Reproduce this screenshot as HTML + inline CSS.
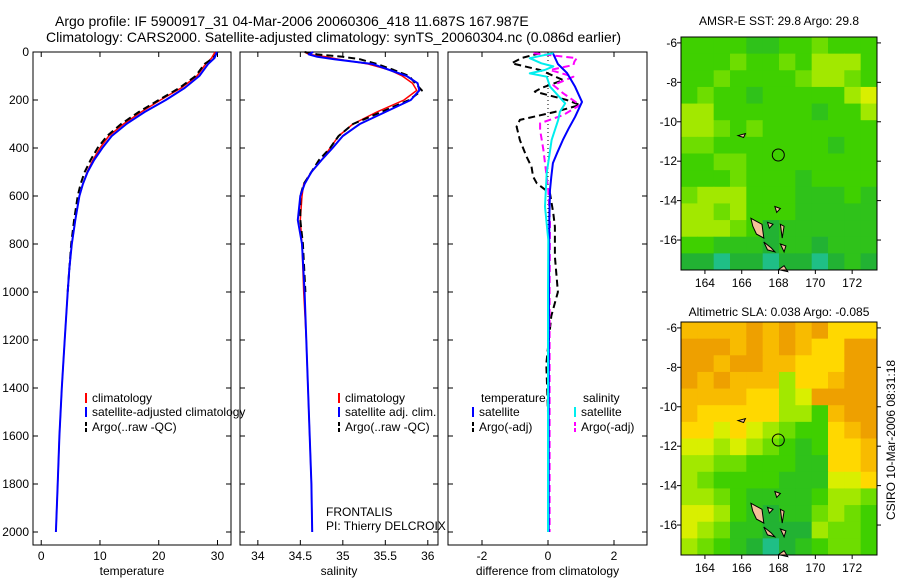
<!DOCTYPE html>
<html><head><meta charset="utf-8"><style>
body{margin:0;background:#fff}
svg{display:block;font-family:"Liberation Sans",sans-serif}
text{fill:#000}
</style></head><body>
<svg id="fig" width="900" height="580" viewBox="0 0 900 580">
<text x="55" y="26" font-size="14">Argo profile: IF 5900917_31 04-Mar-2006 20060306_418 11.687S 167.987E</text>
<text x="46" y="42" font-size="14">Climatology: CARS2000. Satellite-adjusted climatology: synTS_20060304.nc (0.086d earlier)</text>
<g id="plots"></g>
<text transform="translate(895,440) rotate(-90)" text-anchor="middle" font-size="12">CSIRO 10-Mar-2006 08:31:18</text>
</svg>
<script>
// ---- data ----
const depthT=[0,25,50,100,150,200,250,300,350,400,450,500,550,600,700,800,900,1000,1200,1400,1600,1800,2000];
const tempClim=[29.6,29,28,26.5,23.8,20.3,17,14,11.5,10,8.8,7.8,7.1,6.5,5.8,5.2,4.8,4.5,4,3.5,3.1,2.8,2.5];
const tempSat=[29.9,29.5,28.4,26.9,24.4,21.2,17.6,14.5,12,10.4,9,7.9,7.1,6.5,5.8,5.2,4.8,4.5,4,3.5,3.1,2.8,2.5];
const depthTA=[0,25,50,100,150,200,250,300,350,400,450,500,550,600,700,800,900,1000];
const tempArgo=[30,29.3,27.8,26.3,23.5,20,16.6,13.6,11.2,9.6,8.4,7.4,6.7,6.2,5.6,5.1,4.8,4.5];
const depthS=[0,10,20,30,50,75,100,130,160,200,250,300,350,400,450,500,550,600,700,800,1000,1200,1400,1600,1800,2000];
const salClim=[34.55,34.6,34.8,34.95,35.3,35.55,35.7,35.82,35.87,35.72,35.4,35.12,34.95,34.85,34.75,34.63,34.54,34.52,34.5,34.52,34.54,34.57,34.59,34.61,34.63,34.64];
const salSat=[34.65,34.6,34.7,34.9,35.35,35.55,35.75,35.88,35.9,35.8,35.5,35.2,35.0,34.88,34.75,34.63,34.55,34.5,34.47,34.52,34.55,34.57,34.59,34.61,34.63,34.64];
const depthSA=[0,10,20,30,50,75,100,130,160,200,250,300,350,400,450,500,550,600,700,800,1000];
const salArgo=[34.55,34.7,35.0,35.2,35.4,35.6,35.78,35.85,35.93,35.78,35.45,35.12,34.95,34.85,34.72,34.63,34.54,34.5,34.5,34.53,34.56];
const depthDT=[5,50,88,145,208,270,320,367,420,463,520,575,700,1000,1500,2000];
const diffTSat=[0.15,0.3,0.58,0.82,1.03,0.82,0.62,0.45,0.28,0.15,0.1,0.06,0.04,0.03,0.02,0.02];
const depthDTA=[5,25,47,75,117,150,165,200,221,250,283,311,367,436,478,519,547,589,672,728,853,1000,1100,1300,1500,2000];
const diffTArgo=[-0.24,-0.8,-1.1,-0.24,0.46,-0.2,-0.4,0.57,0.97,0.2,-0.85,-0.95,-0.85,-0.65,-0.5,-0.45,-0.34,0.06,0.16,0.21,0.21,0.3,0.1,-0.05,0.0,0.0];
const depthDS=[5,26,47,60,75,89,103,144,214,249,283,367,506,644,783,1000,2000];
const diffSSat=[0.16,-0.55,-0.2,0.16,-0.1,-0.55,-0.04,0.06,0.52,0.36,0.31,0.11,-0.04,-0.09,0.01,0.0,0.0];
const depthDSA=[5,26,40,54,75,103,138,172,221,263,297,325,408,575,714,1000,2000];
const diffSArgo=[-0.44,0.87,0.8,0.77,0.06,0.77,0.16,0.46,0.97,0.46,-0.24,-0.24,-0.14,0.01,0.06,0.05,0.05];
const tempTicks=[0,10,20,30], salTicks=[34,34.5,35,35.5,36], diffTicks=[-2,0,2];
const depthTicks=[0,200,400,600,800,1000,1200,1400,1600,1800,2000];
const lonTicks=[164,166,168,170,172], latTicks=[-6,-8,-10,-12,-14,-16];
// map grids: 12 cols (lon 162.7..173.35) x 14 rows (lat -5.7..-17.5), colour level indices
const sstGrid=[
"333322334333","333433435553","334333345543","343323333356","553333332335",
"554343333333","443333333233","334433333333","333433323333","455533322232",
"554533322222","555431222222","332221221222","110110110121"];
const slaGrid=[
"888898989777","999898987799","998998877799","989888577899","888877569999",
"877777553899","776765433789","665654323778","554433322778","543333222667",
"554322223554","665321224543","654221115443","543210123443"];
const palette=["#1fbf86","#22b233","#2fc21a","#3fd000","#6edd00","#a2e800","#d9ef00","#ffd800","#f8bb00","#eea000","#e08400"];
// ---- helpers ----
const NS="http://www.w3.org/2000/svg";
const root=document.getElementById('plots');
function el(tag,attrs,parent){const e=document.createElementNS(NS,tag);for(const k in attrs)e.setAttribute(k,attrs[k]);(parent||root).appendChild(e);return e;}
const y0=52, yPer=0.24, yBot=545;
const yD=d=>y0+d*yPer;
function panel(x0,x1,xmin,xmax,name,ticks,label,ylabels){
  const sx=v=>x0+(v-xmin)/(xmax-xmin)*(x1-x0);
  const g=el('g',{});
  
  
  const r=el('rect',{x:x0,y:y0,width:x1-x0,height:yBot-y0,fill:'none',stroke:'#000','stroke-width':1},g);
  
  
  ticks.forEach(t=>{
    const x=sx(t);
    el('line',{x1:x,x2:x,y1:yBot,y2:yBot-5,stroke:'#000'},g);
    el('line',{x1:x,x2:x,y1:y0,y2:y0+5,stroke:'#000'},g);
    const tx=el('text',{x:x,y:yBot+15,'text-anchor':'middle','font-size':12},g);
    tx.textContent=t;
    
    
  });
  depthTicks.forEach(d=>{
    const y=yD(d);
    el('line',{x1:x0,x2:x0+5,y1:y,y2:y,stroke:'#000'},g);
    el('line',{x1:x1,x2:x1-5,y1:y,y2:y,stroke:'#000'},g);
    if(ylabels){const tx=el('text',{x:x0-4,y:y+4,'text-anchor':'end','font-size':12},g);tx.textContent=d;
      
      }
  });
  const lb=el('text',{x:(x0+x1)/2,y:575,'text-anchor':'middle','font-size':12},g);
  lb.textContent=label;
  
  
  return {sx,g};
}
function line(p,ds,vs,color,w,dash,name){
  const pts=ds.map((d,i)=>p.sx(vs[i]).toFixed(1)+','+yD(d).toFixed(1)).join(' ');
  const l=el('polyline',{points:pts,fill:'none',stroke:color,'stroke-width':w,'stroke-dasharray':dash||'none','stroke-linejoin':'round'},p.g);
  
  
}
function legend(x,y,color,dash,txt,g){
  el('line',{x1:x,x2:x,y1:y-9,y2:y+1,stroke:color,'stroke-width':2,'stroke-dasharray':dash||'none'},g);
  const t=el('text',{x:x+6,y:y,'font-size':12},g);t.textContent=txt;
  
  
}
// ---- temperature ----
const pT=panel(33,231,-1.4,32.3,'temperature-panel',tempTicks,'temperature',true);
line(pT,depthT,tempClim,'#f00',1.5,null,'temp-climatology-line');
line(pT,depthTA,tempArgo,'#000',2,'7,4','temp-argo-line');
line(pT,depthT,tempSat,'#00f',2,null,'temp-satellite-line');
legend(86,402,'#f00',null,'climatology',pT.g);
legend(86,416,'#00f',null,'satellite-adjusted climatology',pT.g);
legend(86,431,'#000','4,2','Argo(..raw -QC)',pT.g);
// ---- salinity ----
const pS=panel(240,438,33.79,36.12,'salinity-panel',salTicks,'salinity',false);
line(pS,depthS,salClim,'#f00',1.5,null,'sal-climatology-line');
line(pS,depthSA,salArgo,'#000',2,'7,4','sal-argo-line');
line(pS,depthS,salSat,'#00f',2,null,'sal-satellite-line');
legend(339,402,'#f00',null,'climatology',pS.g);
legend(339,416,'#00f',null,'satellite adj. clim.',pS.g);
legend(339,431,'#000','4,2','Argo(..raw -QC)',pS.g);
let t1=el('text',{x:326,y:516,'font-size':12},pS.g);t1.textContent='FRONTALIS';


let t2=el('text',{x:326,y:530,'font-size':12},pS.g);t2.textContent='PI: Thierry DELCROIX';


// ---- difference ----
const pD=panel(448,647,-3.03,3.0,'difference-panel',diffTicks,'difference from climatology',false);
el('line',{x1:pD.sx(0),x2:pD.sx(0),y1:y0,y2:yD(2000),stroke:'#000','stroke-dasharray':'1,3'},pD.g);
line(pD,depthDTA,diffTArgo,'#000',2,'7,4','diff-temp-argo-line');
line(pD,depthDSA,diffSArgo,'#f0f',2,'7,4','diff-sal-argo-line');
line(pD,depthDT,diffTSat,'#00f',2,null,'diff-temp-satellite-line');
line(pD,depthDS,diffSSat,'#0ee',2,null,'diff-sal-satellite-line');
let h1=el('text',{x:481,y:402,'font-size':12},pD.g);h1.textContent='temperature';


let h2=el('text',{x:583,y:402,'font-size':12},pD.g);h2.textContent='salinity';


legend(473,416,'#00f',null,'satellite',pD.g);
legend(473,431,'#000','4,2','Argo(-adj)',pD.g);
legend(575,416,'#0ee',null,'satellite',pD.g);
legend(575,431,'#f0f','4,2','Argo(-adj)',pD.g);
// ---- maps ----
function map(top,bot,grid,name,title,titleY){
  const x0=681,x1=877,lonMin=162.7,lonMax=173.35,latTop=-5.7,latBot=-17.52;
  const sx=lon=>x0+(lon-lonMin)/(lonMax-lonMin)*(x1-x0);
  const sy=lat=>top+(latTop-lat)/(latTop-latBot)*(bot-top);
  const g=el('g',{});
  
  
  const rows=grid.length,cols=grid[0].length,cw=(x1-x0)/cols,ch=(bot-top)/rows;
  grid.forEach((row,r)=>{for(let c=0;c<cols;c++){
    const cell=el('rect',{x:x0+c*cw,y:top+r*ch,width:cw+0.5,height:ch+0.5,fill:palette[+row[c]]},g);
    
    
  }});
  const isl=[[[166.5,-14.9],[167.1,-15.2],[167.2,-15.9],[166.8,-15.7],[166.6,-15.3]],
             [[167.2,-16.1],[167.6,-16.4],[167.8,-16.6],[167.4,-16.5]],
             [[168.1,-15.2],[168.3,-15.3],[168.2,-15.9]],
             [[168.1,-16.2],[168.4,-16.3],[168.3,-16.6]],
             [[168.0,-17.5],[168.5,-17.6],[168.3,-17.3]],
             [[167.4,-15.1],[167.7,-15.2],[167.5,-15.4]],
             [[167.8,-14.3],[168.1,-14.4],[167.9,-14.6]],
             [[165.8,-10.7],[166.2,-10.6],[166.1,-10.8]]];
  isl.forEach(p=>{const s=el('polygon',{points:p.map(q=>sx(q[0])+','+sy(q[1])).join(' '),fill:'#f5c09a',stroke:'#000','stroke-width':1},g);
    
    });
  const c=el('circle',{cx:sx(167.987),cy:sy(-11.687),r:6,fill:'none',stroke:'#000'},g);
  
  
  el('rect',{x:x0,y:top,width:x1-x0,height:bot-top,fill:'none',stroke:'#000'},g);
  lonTicks.forEach(l=>{const x=sx(l);
    el('line',{x1:x,x2:x,y1:bot,y2:bot+4,stroke:'#000'},g);
    const t=el('text',{x:x,y:bot+17,'text-anchor':'middle','font-size':12},g);t.textContent=l;
    
    });
  latTicks.forEach(l=>{const y=sy(l);
    el('line',{x1:x0-4,x2:x0,y1:y,y2:y,stroke:'#000'},g);
    el('line',{x1:x1,x2:x1+4,y1:y,y2:y,stroke:'#000'},g);
    const t=el('text',{x:x0-4,y:y+4,'text-anchor':'end','font-size':12},g);t.textContent=l;
    
    });
  const tt=el('text',{x:(x0+x1)/2,y:titleY,'text-anchor':'middle','font-size':12},g);tt.textContent=title;
  
  
}
map(37,270,sstGrid,'sst-map','AMSR-E SST: 29.8 Argo: 29.8',25);
map(322,555,slaGrid,'sla-map','Altimetric SLA: 0.038 Argo: -0.085',316);
</script>
</body></html>
